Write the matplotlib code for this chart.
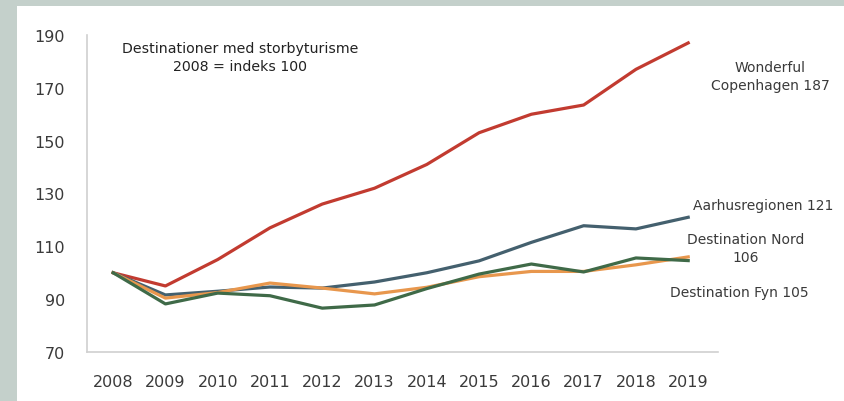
import matplotlib.pyplot as plt
from matplotlib.patches import Rectangle

years = ["2008", "2009", "2010", "2011", "2012", "2013", "2014", "2015", "2016", "2017", "2018", "2019"]
copenhagen = [100, 95, 105, 117, 126, 132, 141, 153, 160, 163.5, 177, 187]
aarhus = [100, 91.6, 93, 94.6, 94.2, 96.5, 100, 104.5, 111.5, 117.8, 116.6, 121]
nord = [100, 90.4, 92.5, 96.1, 94.2, 92, 94.5, 98.5, 100.5, 100.5, 103, 106]
fyn = [100, 88.2, 92.3, 91.3, 86.6, 87.8, 94, 99.5, 103.3, 100.3, 105.6, 104.6]

plt.rcParams["font.family"] = ["DejaVu Sans"]
text_color = "#3a3a3a"

fig = plt.figure(figsize=(8.45, 4.02), dpi=100)
fig.patch.set_facecolor("#c4d0cb")
# white panel inside the grey frame
fig.patches.append(Rectangle((17 / 845, 0), 1, 1 - 7 / 402, transform=fig.transFigure,
                             facecolor="white", edgecolor="none", zorder=-10))

ax = fig.add_axes([87 / 845, 1 - 353 / 402, (718 - 87) / 845, (353 - 36) / 402])
ax.set_facecolor("white")

x = list(range(len(years)))
ax.plot(x, copenhagen, color="#c23b30", linewidth=2.3)
ax.plot(x, aarhus, color="#44606e", linewidth=2.3)
ax.plot(x, nord, color="#e8974d", linewidth=2.3)
ax.plot(x, fyn, color="#3f6a48", linewidth=2.3)

ax.set_xlim(-0.5, 11.57)
ax.set_ylim(70, 190)
ax.set_yticks(range(70, 191, 20))
ax.set_xticks(x)
ax.set_xticklabels(years)
ax.tick_params(length=0, labelsize=11.5, colors=text_color)
ax.tick_params(axis="y", pad=16)
ax.tick_params(axis="x", pad=16)
for side in ["top", "right"]:
    ax.spines[side].set_visible(False)
for side in ["left", "bottom"]:
    ax.spines[side].set_color("#d0d0d0")
    ax.spines[side].set_linewidth(1.2)

def figtext(px, py, s, ha="center"):
    fig.text(px / 845, 1 - py / 402, s, ha=ha, va="center", fontsize=10, color=text_color,
             linespacing=1.3)

fig.text(240 / 845, 1 - 58 / 402, "Destinationer med storbyturisme\n2008 = indeks 100",
         ha="center", va="center", fontsize=10.2, color="#222222", linespacing=1.4)
figtext(770, 77, "Wonderful\nCopenhagen 187")
figtext(693, 206, "Aarhusregionen 121", ha="left")
figtext(746, 249, "Destination Nord\n106")
figtext(670, 293, "Destination Fyn 105", ha="left")

plt.savefig("out.png", dpi=100, facecolor=fig.get_facecolor())
plt.close()
